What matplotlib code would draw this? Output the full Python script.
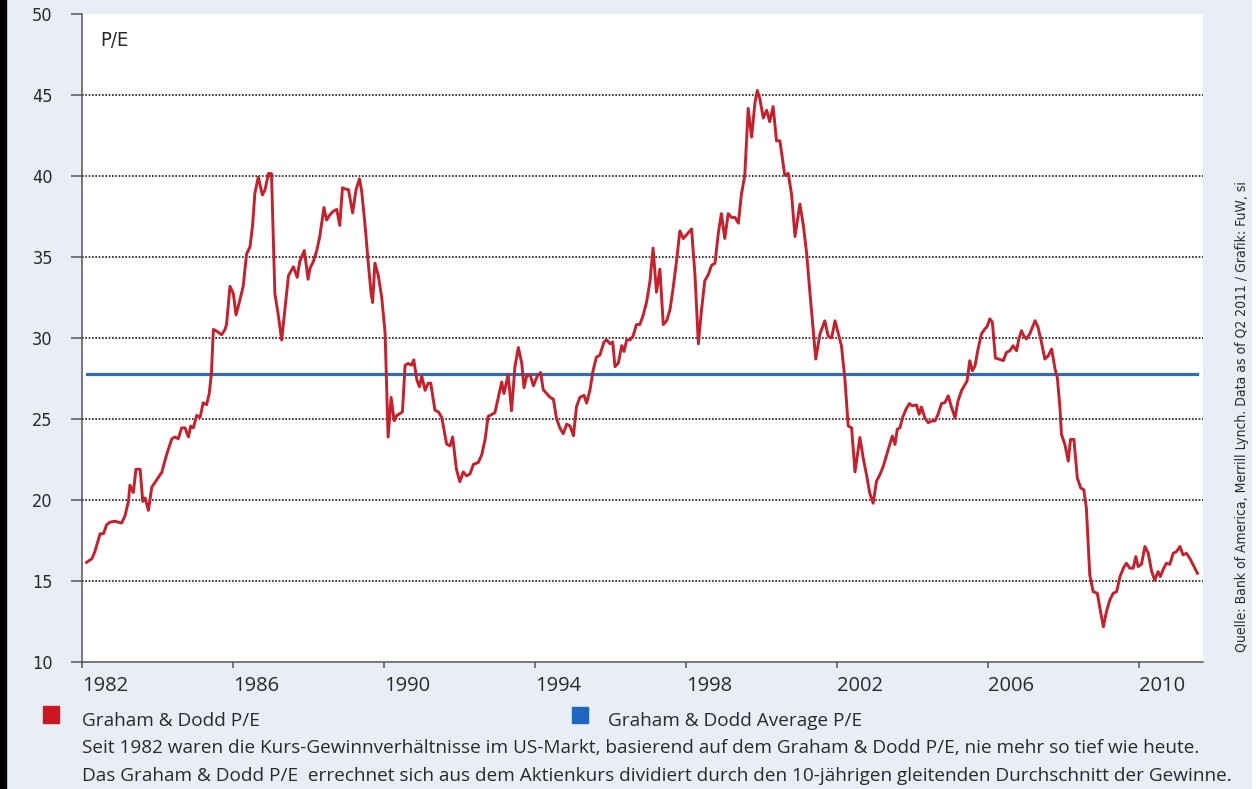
import matplotlib.pyplot as plt
from matplotlib.patches import Rectangle
from matplotlib import font_manager

# Graham & Dodd P/E (roughly monthly)
years = [
    1982.12, 1982.26, 1982.34, 1982.48, 1982.57, 1982.65, 1982.74, 1982.87, 1982.96, 1983.05,
    1983.14, 1983.23, 1983.27, 1983.36, 1983.43, 1983.54, 1983.61, 1983.67, 1983.76, 1983.85,
    1983.98, 1984.07, 1984.11, 1984.24, 1984.38, 1984.46, 1984.55, 1984.64, 1984.73, 1984.82,
    1984.88, 1984.95, 1985.04, 1985.13, 1985.21, 1985.30, 1985.37, 1985.43, 1985.48, 1985.57,
    1985.70, 1985.79, 1985.83, 1985.92, 1986.01, 1986.08, 1986.19, 1986.27, 1986.36, 1986.45,
    1986.52, 1986.58, 1986.67, 1986.78, 1986.85, 1986.94, 1987.02, 1987.11, 1987.20, 1987.29,
    1987.38, 1987.47, 1987.60, 1987.70, 1987.77, 1987.89, 1987.99, 1988.04, 1988.13, 1988.22,
    1988.30, 1988.41, 1988.48, 1988.57, 1988.66, 1988.75, 1988.83, 1988.90, 1988.97, 1989.06,
    1989.17, 1989.26, 1989.35, 1989.41, 1989.50, 1989.58, 1989.66, 1989.70, 1989.76, 1989.85,
    1989.94, 1990.03, 1990.07, 1990.11, 1990.19, 1990.27, 1990.34, 1990.42, 1990.49, 1990.56,
    1990.64, 1990.73, 1990.79, 1990.87, 1990.94, 1991.00, 1991.09, 1991.17, 1991.24, 1991.35,
    1991.44, 1991.53, 1991.66, 1991.75, 1991.82, 1991.92, 1992.01,
    1992.10, 1992.19, 1992.28, 1992.37, 1992.50, 1992.59, 1992.68, 1992.76, 1992.85, 1992.94,
    1993.03, 1993.12, 1993.18, 1993.29, 1993.38, 1993.47, 1993.56, 1993.65, 1993.71, 1993.78,
    1993.87, 1993.96, 1994.06, 1994.15, 1994.22, 1994.31, 1994.40, 1994.49, 1994.57, 1994.66,
    1994.75, 1994.84, 1994.93, 1995.02, 1995.10, 1995.19, 1995.30, 1995.37, 1995.46, 1995.54,
    1995.63, 1995.72, 1995.83, 1995.90, 1995.99, 1996.06, 1996.12, 1996.21, 1996.30, 1996.36,
    1996.43, 1996.52, 1996.60, 1996.69, 1996.78, 1996.87, 1996.96, 1997.05, 1997.13, 1997.22,
    1997.31, 1997.40, 1997.49, 1997.58, 1997.66, 1997.75, 1997.84, 1997.93, 1998.02, 1998.15,
    1998.24, 1998.33, 1998.41, 1998.50, 1998.59, 1998.68, 1998.77, 1998.86, 1998.94, 1999.03,
    1999.12, 1999.21, 1999.30, 1999.39, 1999.47, 1999.56, 1999.65, 1999.74, 1999.83, 1999.89,
    1999.96, 2000.05, 2000.14, 2000.22, 2000.31, 2000.40, 2000.49, 2000.62, 2000.71, 2000.80,
    2000.89, 2001.02, 2001.11, 2001.20, 2001.28, 2001.37, 2001.44, 2001.55, 2001.68, 2001.77,
    2001.86, 2001.95, 2002.03, 2002.12, 2002.21, 2002.30, 2002.39, 2002.48, 2002.61, 2002.70,
    2002.79, 2002.87, 2002.96,
    2003.05, 2003.14, 2003.23, 2003.32, 2003.40, 2003.47, 2003.54, 2003.60, 2003.67, 2003.74,
    2003.83, 2003.92, 2004.00, 2004.11, 2004.18, 2004.24, 2004.33, 2004.42, 2004.51, 2004.60,
    2004.68, 2004.77, 2004.86, 2004.95, 2005.04, 2005.13, 2005.21, 2005.30, 2005.39, 2005.45,
    2005.52, 2005.59, 2005.66, 2005.74, 2005.83, 2005.92, 2005.98, 2006.05, 2006.12, 2006.20,
    2006.29, 2006.41, 2006.49, 2006.58, 2006.67, 2006.76, 2006.82, 2006.89, 2006.95, 2007.02,
    2007.11, 2007.25, 2007.33, 2007.42, 2007.51, 2007.60, 2007.69, 2007.78, 2007.84, 2007.91,
    2007.95, 2008.04, 2008.13, 2008.19, 2008.28, 2008.37, 2008.46, 2008.54, 2008.61, 2008.70,
    2008.79, 2008.90, 2008.97, 2009.06, 2009.14, 2009.23, 2009.32, 2009.41, 2009.50, 2009.59,
    2009.67, 2009.76, 2009.85, 2009.92, 2009.98, 2010.07, 2010.16, 2010.25, 2010.34, 2010.42,
    2010.51, 2010.57, 2010.65, 2010.73, 2010.82, 2010.91, 2011.00, 2011.09, 2011.17, 2011.26,
    2011.35, 2011.44, 2011.55,
]
pe = [
    16.15, 16.37, 16.81, 17.92, 17.92, 18.47, 18.63, 18.69, 18.63, 18.58,
    19.03, 19.91, 20.91, 20.46, 21.90, 21.90, 19.91, 20.13, 19.36, 20.80,
    21.24, 21.57, 21.68, 22.79, 23.78, 23.89, 23.78, 24.45, 24.45, 23.89,
    24.56, 24.45, 25.22, 25.11, 26.00, 25.88, 26.55, 27.88, 30.53, 30.42,
    30.20, 30.53, 30.86, 33.19, 32.74, 31.42, 32.41, 33.19, 35.18, 35.62,
    36.95, 38.94, 39.93, 38.83, 39.16, 40.15, 40.15, 32.74, 31.42, 29.87,
    31.86, 33.85, 34.40, 33.74, 34.73, 35.40, 33.63, 34.29, 34.73, 35.40,
    36.28, 38.05, 37.28, 37.61, 37.83, 37.94, 36.95, 39.27, 39.20, 39.16,
    37.72, 39.16, 39.82, 39.05, 36.95, 34.73, 32.74, 32.19, 34.62, 33.85,
    32.52, 30.31, 26.99, 23.89, 26.33, 24.89, 25.22, 25.33, 25.44, 28.32,
    28.43, 28.32, 28.65, 27.43, 26.99, 27.65, 26.77, 27.21, 27.21, 25.55,
    25.44, 25.11, 23.45, 23.34, 23.89, 21.90, 21.13,
    21.73, 21.49, 21.61, 22.20, 22.32, 22.79, 23.74, 25.16, 25.27, 25.39,
    26.34, 27.28, 26.57, 27.75, 25.51, 28.23, 29.41, 28.46, 26.93, 27.64,
    27.75, 27.05, 27.64, 27.87, 26.81, 26.57, 26.34, 26.22, 25.04, 24.45,
    24.09, 24.68, 24.57, 23.97, 25.75, 26.34, 26.46, 25.98, 26.81, 27.99,
    28.82, 28.94, 29.76, 29.88, 29.64, 29.76, 28.23, 28.46, 29.53, 29.17,
    29.88, 29.88, 30.12, 30.83, 30.83, 31.42, 32.24, 33.54, 35.55, 32.83,
    34.25, 30.83, 31.06, 31.77, 33.07, 34.72, 36.61, 36.14, 36.38, 36.73,
    33.90, 29.64, 31.65, 33.54, 33.90, 34.49, 34.61, 36.50, 37.68, 36.14,
    37.68, 37.44, 37.44, 37.09, 38.86, 40.04, 44.17, 42.40, 44.53, 45.28,
    44.76, 43.58, 44.06, 43.35, 44.29, 42.17, 42.17, 40.04, 40.16, 38.86,
    36.26, 38.27, 36.97, 35.20, 32.95, 30.59, 28.70, 30.24, 31.06, 30.12,
    30.00, 31.06, 30.35, 29.53, 27.52, 24.57, 24.45, 21.73, 23.86, 22.56,
    21.49, 20.43, 19.80,
    21.16, 21.57, 22.09, 22.81, 23.43, 23.95, 23.43, 24.36, 24.46, 25.08,
    25.60, 25.95, 25.81, 25.87, 25.29, 25.74, 25.08, 24.77, 24.88, 24.88,
    25.29, 25.95, 26.01, 26.43, 25.70, 25.08, 26.12, 26.74, 27.11, 27.36,
    28.60, 27.98, 28.29, 29.32, 30.25, 30.56, 30.70, 31.18, 30.97, 28.76,
    28.70, 28.60, 29.11, 29.21, 29.52, 29.21, 29.94, 30.45, 30.14, 29.94,
    30.25, 31.07, 30.66, 29.73, 28.70, 28.90, 29.32, 28.08, 27.56, 25.70,
    24.05, 23.43, 22.40, 23.74, 23.74, 21.36, 20.74, 20.64, 19.50, 15.37,
    14.34, 14.24, 13.31, 12.17, 13.10, 13.82, 14.24, 14.34, 15.27, 15.79,
    16.10, 15.79, 15.79, 16.51, 15.89, 16.03, 17.13, 16.71, 15.58, 15.06,
    15.58, 15.27, 15.74, 16.10, 16.03, 16.71, 16.82, 17.13, 16.61, 16.71,
    16.40, 15.99, 15.48,
]
avg_pe = 27.8

y_ticks = [10, 15, 20, 25, 30, 35, 40, 45, 50]
grid_levels = [15, 20, 25, 30, 35, 40, 45]
x_ticks = [1982, 1986, 1990, 1994, 1998, 2002, 2006, 2010]

red = '#c91f2b'
blue = '#2c6db5'
bg = '#e9eef6'
ink = '#2a2a2a'
W, H = 1256, 789

# narrow font for the axis numbers and the source note
narrow = font_manager.FontProperties(family='DejaVu Sans', stretch='condensed')
print(font_manager.findfont(narrow))

fig = plt.figure(figsize=(W / 100, H / 100), dpi=100, facecolor=bg)
ax = fig.add_axes([82 / W, 1 - 662 / H, (1203 - 82) / W, (662 - 14) / H])
ax.set_facecolor('white')

for lvl in grid_levels:
    ax.axhline(lvl, color='#1a1a1a', lw=1.2, ls=(0, (1, 1)), zorder=1)

ax.plot([years[0], years[-1]], [avg_pe, avg_pe], color=blue, lw=2.3, zorder=2)
ax.plot(years, pe, color=red, lw=2.1, zorder=3)

ax.set_xlim(1982, 2011.7)
ax.set_ylim(10, 50)
ax.set_xticks(x_ticks)
ax.set_yticks(y_ticks)
ax.set_xticklabels([str(y) for y in x_ticks], fontfamily='Open Sans', fontsize=14.5, color=ink)
ax.set_yticklabels([str(y) for y in y_ticks], fontproperties=narrow, fontsize=13, color=ink)
for lbl in ax.get_xticklabels():
    lbl.set_ha('left')

for s in ['top', 'right']:
    ax.spines[s].set_visible(False)
for s in ['left', 'bottom']:
    ax.spines[s].set_color('#555555')
    ax.spines[s].set_linewidth(1.1)
ax.tick_params(axis='y', length=8, width=1.1, color='#555555', pad=13)
ax.tick_params(axis='x', length=4, width=1.1, color='#555555', pad=6)

ax.text(0.016, 0.95, 'P/E', transform=ax.transAxes, fontproperties=narrow,
        fontsize=14.5, color=ink, ha='left', va='baseline')

# legend squares and texts below the chart
fig.patches.append(Rectangle((43 / W, 1 - 723 / H), 16 / W, 17 / H, transform=fig.transFigure,
                             color='#cc1722', zorder=5))
fig.patches.append(Rectangle((572 / W, 1 - 723 / H), 16 / W, 16 / H, transform=fig.transFigure,
                             color='#1e66c0', zorder=5))
txt = dict(fontfamily='Open Sans', fontsize=13.7, color=ink, va='baseline', ha='left')
fig.text(82 / W, 1 - 726 / H, 'Graham & Dodd P/E', **txt)
fig.text(608 / W, 1 - 726 / H, 'Graham & Dodd Average P/E', **txt)
fig.text(82 / W, 1 - 753 / H,
         'Seit 1982 waren die Kurs-Gewinnverhältnisse im US-Markt, basierend auf dem Graham & Dodd P/E, '
         'nie mehr so tief wie heute.', **txt)
fig.text(82 / W, 1 - 781 / H,
         'Das Graham & Dodd P/E  errechnet sich aus dem Aktienkurs dividiert durch den 10-jährigen '
         'gleitenden Durchschnitt der Gewinne.', **txt)

fig.text(1242 / W, 1 - 417 / H,
         'Quelle: Bank of America, Merrill Lynch. Data as of Q2 2011 / Grafik: FuW, si',
         fontproperties=narrow, fontsize=10, color=ink,
         rotation=90, ha='center', va='center')

# black left border and white right strip
fig.patches.append(Rectangle((0, 0), 6 / W, 1, transform=fig.transFigure, color='black', zorder=6))
fig.patches.append(Rectangle((1252 / W, 0), 4 / W, 1, transform=fig.transFigure, color='white', zorder=6))

fig.savefig('out.png', dpi=100, facecolor=bg)
